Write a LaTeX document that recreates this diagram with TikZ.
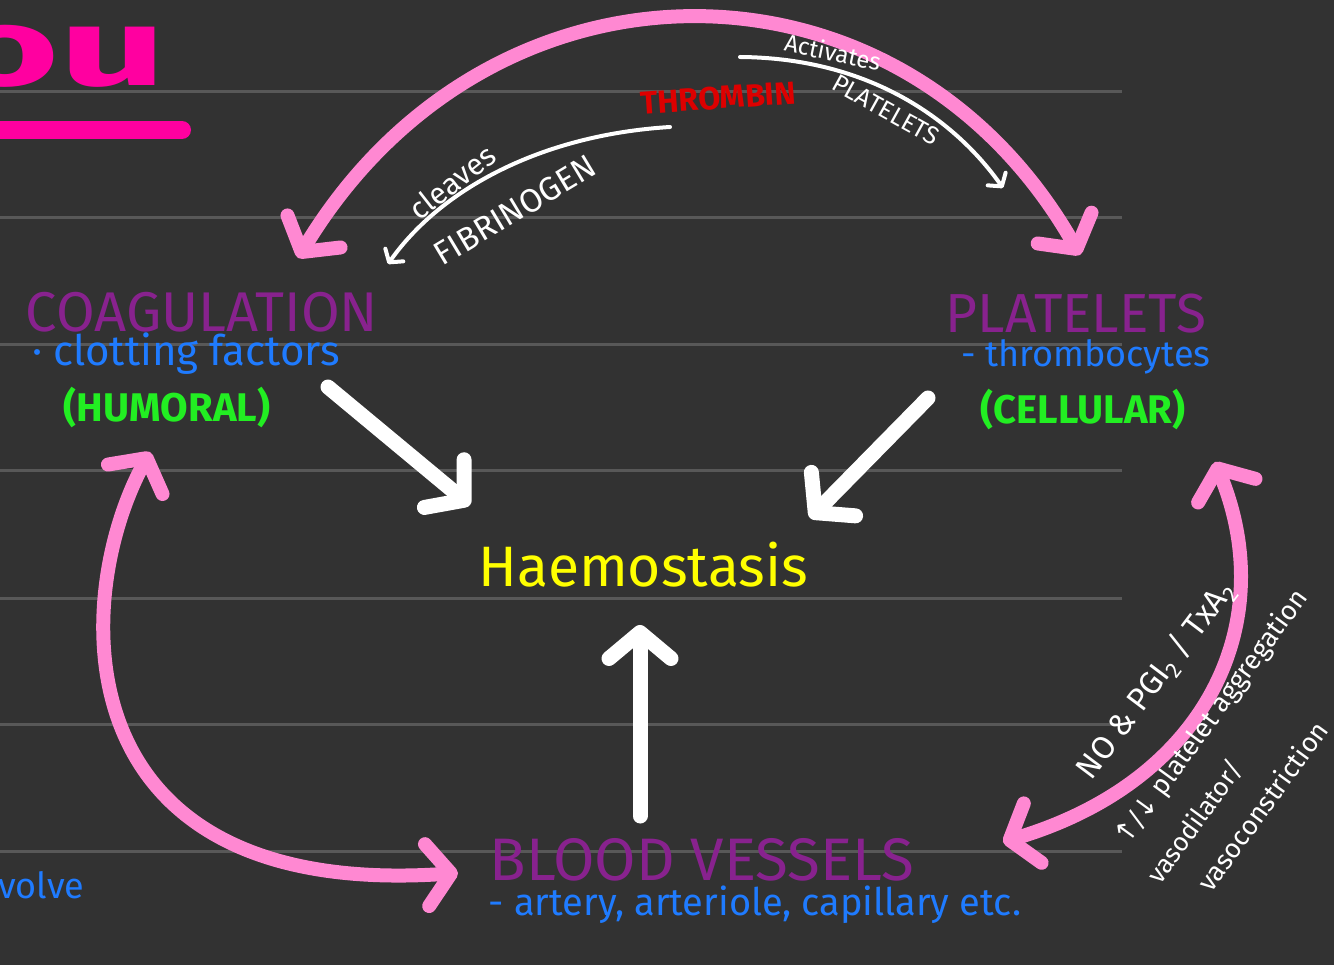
\documentclass[tikz,border=0pt]{standalone}
\usepackage{fontspec}
\setmainfont{Fira Sans}
\newfontfamily\symbfont{DejaVu Sans}
\usetikzlibrary{arrows.meta}

\definecolor{board}{HTML}{323232}
\definecolor{ruleline}{HTML}{585858}
\definecolor{arcpink}{HTML}{FF88D2}
\definecolor{titlepink}{HTML}{FF00A0}
\definecolor{headpurple}{HTML}{88228E}
\definecolor{noteblue}{HTML}{1F7BFF}
\definecolor{notegreen}{HTML}{22EE22}
\definecolor{noteyellow}{HTML}{FFFF00}
\definecolor{notered}{HTML}{DD0000}

\tikzset{
  gridline/.style={ruleline, line width=3pt},
  pinkarc/.style={arcpink, line width=14pt, line cap=round,
    {Straight Barb[length=24pt,width=62pt,round]}-{Straight Barb[length=24pt,width=62pt,round]}},
  bigarrow/.style={white, line width=15pt, line cap=round,
    -{Straight Barb[length=26pt,width=62pt,round]}},
  thinarrow/.style={white, line width=4pt, line cap=round,
    -{Straight Barb[length=9pt,width=22pt,round]}},
  heading/.style={headpurple, inner sep=0pt, font=\fontsize{#1}{#1}\selectfont},
  heading/.default=55,
  subnote/.style={noteblue, inner sep=0pt, font=\fontsize{#1}{#1}\selectfont},
  subnote/.default=36,
  kind/.style={notegreen, inner sep=0pt, font=\fontsize{40}{40}\selectfont\bfseries},
  whitenote/.style={white, inner sep=0pt, font=\fontsize{#1}{#1}\selectfont},
  whitenote/.default=28
}

\begin{document}
\begin{tikzpicture}[x=1pt,y=-1pt]

    % --- 1. Board and ruled lines ---
    \useasboundingbox (0,0) rectangle (1334,965);
    \fill[board] (0,0) rectangle (1334,965);
    \clip (0,0) rectangle (1334,965);
    \foreach \y in {92,218,345,471,598,724,851}
        \draw[gridline] (0,\y) -- (1122,\y);

    % --- 2. Title fragment (cut off at the left edge) ---
    \node[titlepink, inner sep=0pt, anchor=base west, font=\fontsize{110}{110}\selectfont\bfseries]
        (title) at (-50,86) {\scalebox{1.7}[1]{ou}};
    \draw[titlepink, line width=18pt, line cap=round] (-20,130) -- (182,130);

    % --- 3. The four main labels ---
    \node[heading=56] (coag) at (202,312) {COAGULATION};
    \node[subnote=42] (coagsub) at (186,354) {· clotting factors};
    \node[kind] (humoral) at (167,408) {(HUMORAL)};

    \node[heading=55] (plat) at (1076,314) {PLATELETS};
    \node[subnote] (platsub) at (1086,357) {- thrombocytes};
    \node[kind] (cellular) at (1083,410) {(CELLULAR)};

    \node[noteyellow, inner sep=0pt, font=\fontsize{57}{57}\selectfont]
        (haemo) at (643,565) {Haemostasis};

    \node[heading=60] (vessels) at (702,860) {BLOOD VESSELS};
    \node[subnote=38] (vesselsub) at (755,905) {- artery, arteriole, capillary etc.};

    \node[subnote, anchor=west] (volve) at (-2,885) {volve};

    % --- 4. End points of the connectors ---
    \coordinate (coagtop) at (298,258);
    \coordinate (plattop) at (1080,255);
    \coordinate (coagbot) at (150,452);
    \coordinate (vesleft) at (458,873);
    \coordinate (platbot) at (1215,462);
    \coordinate (vesright) at (1003,842);

    \coordinate (coagout) at (328,387);
    \coordinate (haemoNW) at (470,505);
    \coordinate (platout) at (928,398);
    \coordinate (haemoNE) at (810,518);
    \coordinate (vesout) at (640,816);
    \coordinate (haemoS) at (640,625);

    \coordinate (thrL) at (670,127);
    \coordinate (fibr) at (388,264);
    \coordinate (thrR) at (740,57);
    \coordinate (platact) at (1003,188);

    % --- 5. Pink two-way arcs ---
    \draw[pinkarc] (coagtop) .. controls (490,-60) and (900,-60) .. (plattop);
    \draw[pinkarc] (coagbot) .. controls (70,600) and (60,900) .. (vesleft);
    \draw[pinkarc] (platbot) .. controls (1280,620) and (1210,780) .. (vesright);

    % --- 6. White arrows into Haemostasis ---
    \draw[bigarrow] (coagout) -- (haemoNW);
    \draw[bigarrow] (platout) -- (haemoNE);
    \draw[bigarrow] (vesout) -- (haemoS);

    % --- 7. Thrombin arrows and their notes ---
    \draw[thinarrow] (thrL) .. controls (540,135) and (440,190) .. (fibr);
    \draw[thinarrow] (thrR) .. controls (870,58) and (955,120) .. (platact);

    \node[notered, inner sep=0pt, rotate=4, font=\fontsize{32}{32}\selectfont\bfseries]
        (thrombin) at (718,98) {THROMBIN};
    \node[whitenote=24, rotate=-12] (activ) at (833,52) {Activates};
    \node[whitenote=25, rotate=-29] (platw) at (886,110) {PLATELETS};
    \node[whitenote=30, rotate=38] (cleaves) at (452,182) {cleaves};
    \node[whitenote=33, rotate=31] (fibrin) at (515,210) {FIBRINOGEN};

    % --- 8. Notes along the right arc ---
    \node[whitenote=32, rotate=53] (nopgi) at (1156,680) {NO \& PGI\textsubscript{2} / TxA\textsubscript{2}};
    \node[whitenote=27, rotate=54] (aggr) at (1212,718) {{\symbfont ↑/↓} platelet aggregation};
    \node[whitenote=26, rotate=54] (vdil) at (1195,822) {vasodilator/};
    \node[whitenote=27, rotate=54] (vcon) at (1262,806) {vasoconstriction};

\end{tikzpicture}
\end{document}
